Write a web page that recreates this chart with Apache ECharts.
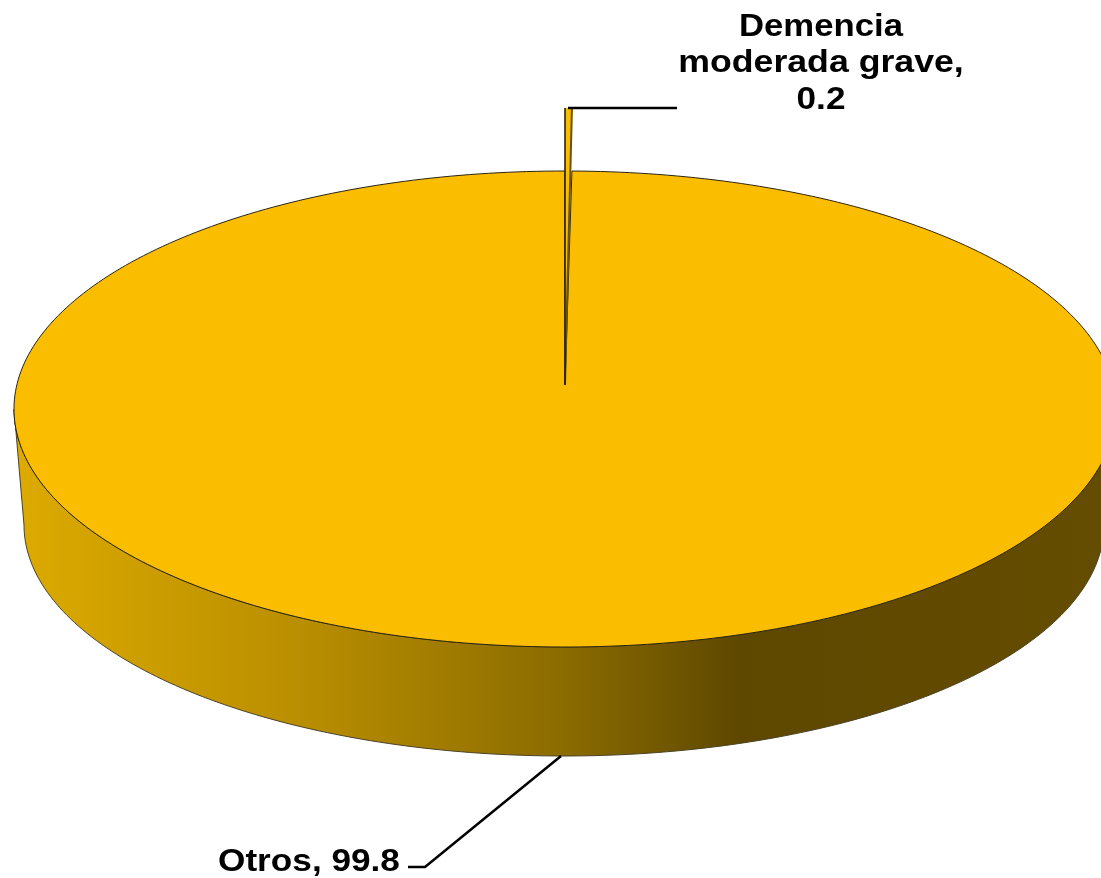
<!DOCTYPE html>
<html>
<head>
<meta charset="utf-8">
<title>Demencia moderada grave</title>
<style>
  html, body { margin: 0; padding: 0; background: #fff; overflow: hidden; }
  #chart { width: 1101px; height: 878px; }
</style>
<script src="https://cdn.jsdelivr.net/npm/echarts@6/dist/echarts.min.js"></script>
</head>
<body>
<div id="chart"></div>
<script>
const categories = ["Demencia moderada grave", "Otros"];
const values = [0.2, 99.8];
const labelLines = [["Demencia", "moderada grave,", "0.2"], ["Otros, 99.8"]];

// geometria del disco (elipse superior, elipse inferior y porcion separada)
const TOP = { cx: 565, cy: 409, rx: 551, ry: 238 };
const BOTTOM = { cx: 564, cy: 525, rx: 540, ry: 231 };
const APEX = { x: 565, y: 385 };
const EXPLODED = { cx: 565, cy: 385, rx: 551, ry: 277 };

const FACE_COLOR = "#fbbd00";
const EDGE_COLOR = "#2b2410";
const LABEL_FONT = "bold 32px 'Liberation Sans', Arial, sans-serif";

// etiquetas y lineas guia por categoria
const LABEL_LAYOUT = [
  { x: 821, y: 27, step: 36.5, align: "center", scale: [1.085, 1.115, 1.1] },
  { x: 218, y: 862, step: 0, align: "left", scale: [1.1] },
];
const LEADERS = [
  [[568, 108], [677, 108]],
  [[561, 756], [425, 867], [408, 867]],
];

const total = values.reduce((a, b) => a + b, 0);

// punto de una elipse para un angulo en radianes, en sentido horario desde arriba
const pointOn = (e, a) => [e.cx + e.rx * Math.sin(a), e.cy - e.ry * Math.cos(a)];

const arcPoints = (e, from, to) => {
  const n = Math.max(2, Math.ceil(((to - from) * 180) / Math.PI));
  const pts = [];
  for (let i = 0; i <= n; i++) pts.push(pointOn(e, from + ((to - from) * i) / n));
  return pts;
};

const wallFill = new echarts.graphic.LinearGradient(
  20, 0, 1101, 0,
  [
    { offset: 0, color: "#dcaa00" },
    { offset: 0.26, color: "#b98e00" },
    { offset: 0.5, color: "#8c6c00" },
    { offset: 0.665, color: "#5e4800" },
    { offset: 1, color: "#644c00" },
  ],
  true
);

const renderSlice = (params, api) => {
  const i = params.dataIndex;
  const before = values.slice(0, i).reduce((a, b) => a + b, 0);
  const start = (before / total) * Math.PI * 2;
  const end = ((before + api.value(0)) / total) * Math.PI * 2;
  const children = [];

  if (i === 0) {
    // porcion separada: cara superior sobre el disco, con bordes oscuros
    const apex = [APEX.x, APEX.y];
    children.push({
      type: "polygon",
      z2: 5,
      shape: { points: [apex, ...arcPoints(EXPLODED, start, end)] },
      style: { fill: FACE_COLOR, stroke: null },
    });
    children.push({
      type: "polyline",
      z2: 5,
      shape: { points: [apex, pointOn(EXPLODED, end)] },
      style: { fill: null, stroke: "#6b5200", lineWidth: 2 },
    });
    children.push({
      type: "polyline",
      z2: 5,
      shape: { points: [apex, pointOn(EXPLODED, start)] },
      style: { fill: null, stroke: "#1f1800", lineWidth: 1.5 },
    });
  } else {
    // pared frontal: solo la mitad visible del arco
    const wallFrom = Math.max(start, Math.PI / 2);
    const wallTo = Math.min(end, (Math.PI * 3) / 2);
    const upper = arcPoints(TOP, wallFrom, wallTo);
    const lower = arcPoints(BOTTOM, wallFrom, wallTo).reverse();
    children.push({
      type: "polygon",
      z2: 1,
      shape: { points: [...upper, ...lower] },
      style: { fill: wallFill, stroke: "#4a4326", lineWidth: 1 },
    });
    children.push({
      type: "polygon",
      z2: 2,
      shape: { points: [[APEX.x, APEX.y], ...arcPoints(TOP, start, end)] },
      style: { fill: FACE_COLOR, stroke: EDGE_COLOR, lineWidth: 1 },
    });
  }

  children.push({
    type: "polyline",
    z2: 6,
    shape: { points: LEADERS[i] },
    style: { fill: null, stroke: "#000", lineWidth: 2.5 },
  });

  const layout = LABEL_LAYOUT[i];
  labelLines[i].forEach((text, k) => {
    children.push({
      type: "text",
      z2: 7,
      x: layout.x,
      y: layout.y + k * layout.step,
      scaleX: layout.scale[k],
      style: { text, font: LABEL_FONT, fill: "#000", align: layout.align, verticalAlign: "middle" },
    });
  });

  return { type: "group", children };
};

const chart = echarts.init(document.getElementById("chart"), null, { renderer: "canvas" });
chart.setOption({
  animation: false,
  backgroundColor: "#fff",
  series: [
    {
      type: "custom",
      coordinateSystem: "none",
      silent: true,
      clip: false,
      renderItem: renderSlice,
      data: categories.map((name, i) => ({ name, value: [values[i]] })),
    },
  ],
});
</script>
</body>
</html>
